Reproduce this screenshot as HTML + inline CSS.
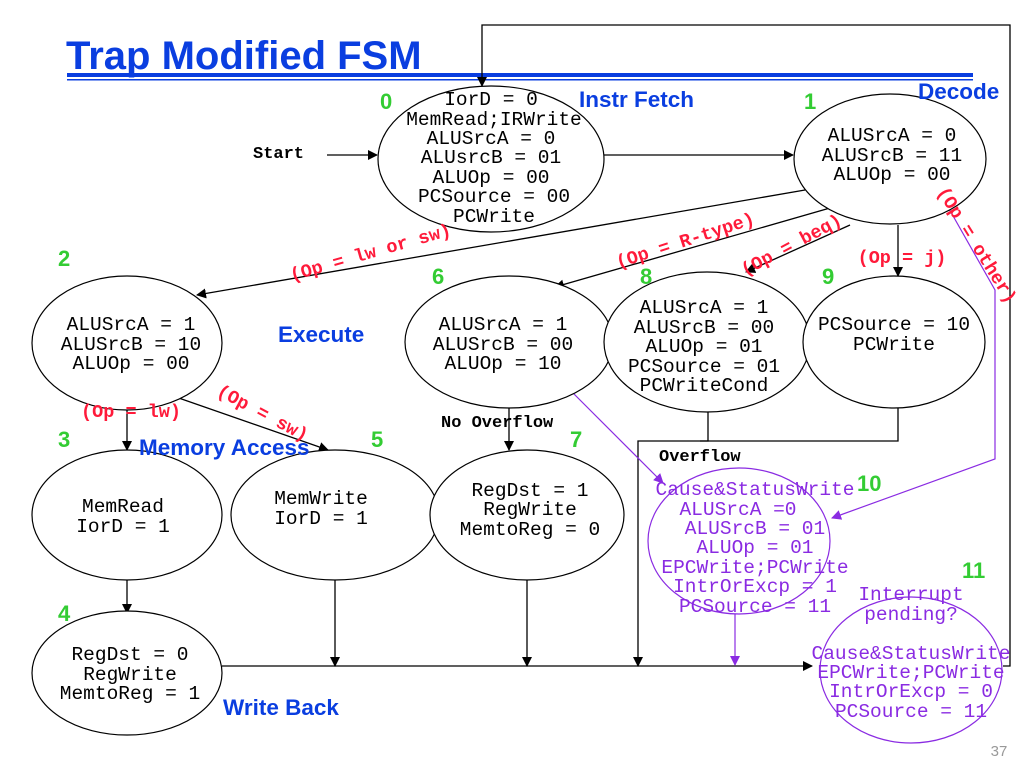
<!DOCTYPE html>
<html><head><meta charset="utf-8"><style>
html,body{margin:0;padding:0;background:#fff;}
svg{display:block;}
.m{font-family:"Liberation Mono",monospace;font-size:19.5px;fill:#000;text-anchor:middle;}
.p{font-family:"Liberation Mono",monospace;font-size:19.5px;fill:#8a2be2;text-anchor:middle;}
.r{font-family:"Liberation Mono",monospace;font-size:18.5px;font-weight:bold;fill:#ff1a3a;text-anchor:middle;}
.b{font-family:"Liberation Mono",monospace;font-size:17px;font-weight:bold;fill:#000;}
.g{font-family:"Liberation Sans",sans-serif;font-size:22px;font-weight:bold;fill:#33cc33;}
.h{font-family:"Liberation Sans",sans-serif;font-size:22.5px;font-weight:bold;fill:#0a3ee0;}
</style></head><body>
<svg width="1034" height="779" viewBox="0 0 1034 779" xmlns="http://www.w3.org/2000/svg">
<defs>
<marker id="a" markerWidth="10" markerHeight="10" refX="9" refY="5" orient="auto" markerUnits="userSpaceOnUse"><path d="M0,0 L10,5 L0,10 z" fill="#000"/></marker>
<marker id="pa" markerWidth="10" markerHeight="10" refX="9" refY="5" orient="auto" markerUnits="userSpaceOnUse"><path d="M0,0 L10,5 L0,10 z" fill="#8a2be2"/></marker>
</defs>
<text x="66" y="69" font-family="Liberation Sans, sans-serif" font-size="40" font-weight="bold" fill="#0a3ee0">Trap Modified FSM</text>
<rect x="67" y="73" width="906" height="4" fill="#0a3ee0"/>
<rect x="67" y="79" width="906" height="1.5" fill="#0a3ee0"/>

<g fill="none" stroke="#000" stroke-width="1.3">
<polyline points="1003,666 1010,666 1010,25 482,25 482,86" marker-end="url(#a)"/>
<line x1="327" y1="155" x2="377" y2="155" marker-end="url(#a)"/>
<line x1="604" y1="155" x2="793" y2="155" marker-end="url(#a)"/>
<line x1="805" y1="190" x2="197" y2="295" marker-end="url(#a)"/>
<line x1="830" y1="208" x2="555" y2="287" marker-end="url(#a)"/>
<line x1="850" y1="225" x2="746" y2="272" marker-end="url(#a)"/>
<line x1="898" y1="225" x2="898" y2="276" marker-end="url(#a)"/>
<line x1="127" y1="410" x2="127" y2="450" marker-end="url(#a)"/>
<line x1="150" y1="388" x2="328" y2="450" marker-end="url(#a)"/>
<line x1="509" y1="408" x2="509" y2="450" marker-end="url(#a)"/>
<line x1="127" y1="580" x2="127" y2="613" marker-end="url(#a)"/>
<line x1="335" y1="580" x2="335" y2="666" marker-end="url(#a)"/>
<line x1="527" y1="580" x2="527" y2="666" marker-end="url(#a)"/>
<polyline points="708,412 708,441 638,441 638,666" marker-end="url(#a)"/>
<polyline points="898,408 898,441 700,441"/>
<line x1="222" y1="666" x2="812" y2="666" marker-end="url(#a)"/>
</g>
<g fill="none" stroke="#8a2be2" stroke-width="1.2">
<line x1="570" y1="390" x2="663" y2="483" marker-end="url(#pa)"/>
<polyline points="948,207 995,290 995,459 832,518" marker-end="url(#pa)"/>
<line x1="735" y1="614" x2="735" y2="665" marker-end="url(#pa)"/>
</g>

<g fill="#fff" stroke="#000" stroke-width="1.2">
<ellipse cx="491" cy="159" rx="113" ry="73"/>
<ellipse cx="890" cy="159" rx="96" ry="65"/>
<ellipse cx="127" cy="343" rx="95" ry="67"/>
<ellipse cx="509" cy="342" rx="104" ry="66"/>
<ellipse cx="707" cy="342" rx="103" ry="70"/>
<ellipse cx="894" cy="342" rx="91" ry="66"/>
<ellipse cx="127" cy="515" rx="95" ry="65"/>
<ellipse cx="335" cy="515" rx="104" ry="65"/>
<ellipse cx="527" cy="515" rx="97" ry="65"/>
<ellipse cx="127" cy="673" rx="95" ry="62"/>
</g>
<g fill="none" stroke="#8a2be2" stroke-width="1.2">
<ellipse cx="739" cy="541" rx="91" ry="73"/>
<ellipse cx="911" cy="670" rx="91" ry="73"/>
</g>

<text class="m" x="491" y="105">IorD = 0</text>
<text class="m" x="494" y="125">MemRead;IRWrite</text>
<text class="m" x="491" y="144">ALUSrcA = 0</text>
<text class="m" x="491" y="163">ALUsrcB = 01</text>
<text class="m" x="491" y="183">ALUOp = 00</text>
<text class="m" x="494" y="202">PCSource = 00</text>
<text class="m" x="494" y="222">PCWrite</text>

<text class="m" x="892" y="141">ALUSrcA = 0</text>
<text class="m" x="892" y="161">ALUSrcB = 11</text>
<text class="m" x="892" y="180">ALUOp = 00</text>

<text class="m" x="131" y="330">ALUSrcA = 1</text>
<text class="m" x="131" y="350">ALUSrcB = 10</text>
<text class="m" x="131" y="369">ALUOp = 00</text>

<text class="m" x="503" y="330">ALUSrcA = 1</text>
<text class="m" x="503" y="350">ALUSrcB = 00</text>
<text class="m" x="503" y="369">ALUOp = 10</text>

<text class="m" x="704" y="313">ALUSrcA = 1</text>
<text class="m" x="704" y="333">ALUSrcB = 00</text>
<text class="m" x="704" y="352">ALUOp = 01</text>
<text class="m" x="704" y="372">PCSource = 01</text>
<text class="m" x="704" y="391">PCWriteCond</text>

<text class="m" x="894" y="330">PCSource = 10</text>
<text class="m" x="894" y="350">PCWrite</text>

<text class="m" x="123" y="512">MemRead</text>
<text class="m" x="123" y="532">IorD = 1</text>
<text class="m" x="321" y="504">MemWrite</text>
<text class="m" x="321" y="524">IorD = 1</text>
<text class="m" x="530" y="496">RegDst = 1</text>
<text class="m" x="530" y="515">RegWrite</text>
<text class="m" x="530" y="535">MemtoReg = 0</text>
<text class="m" x="130" y="660">RegDst = 0</text>
<text class="m" x="130" y="680">RegWrite</text>
<text class="m" x="130" y="699">MemtoReg = 1</text>

<text class="p" x="755" y="495">Cause&amp;StatusWrite</text>
<text class="p" x="738" y="515">ALUSrcA =0</text>
<text class="p" x="755" y="534">ALUSrcB = 01</text>
<text class="p" x="755" y="553">ALUOp = 01</text>
<text class="p" x="755" y="573">EPCWrite;PCWrite</text>
<text class="p" x="755" y="592">IntrOrExcp = 1</text>
<text class="p" x="755" y="612">PCSource = 11</text>
<text class="p" x="911" y="600">Interrupt</text>
<text class="p" x="911" y="620">pending?</text>
<text class="p" x="911" y="659">Cause&amp;StatusWrite</text>
<text class="p" x="911" y="678">EPCWrite;PCWrite</text>
<text class="p" x="911" y="697">IntrOrExcp = 0</text>
<text class="p" x="911" y="717">PCSource = 11</text>

<text class="b" x="253" y="158">Start</text>
<text class="b" x="441" y="427">No Overflow</text>
<text class="b" x="659" y="461">Overflow</text>

<text class="g" x="380" y="109">0</text>
<text class="g" x="804" y="109">1</text>
<text class="g" x="58" y="266">2</text>
<text class="g" x="432" y="284">6</text>
<text class="g" x="640" y="284">8</text>
<text class="g" x="822" y="284">9</text>
<text class="g" x="58" y="447">3</text>
<text class="g" x="371" y="447">5</text>
<text class="g" x="570" y="447">7</text>
<text class="g" x="58" y="621">4</text>
<text class="g" x="857" y="491">10</text>
<text class="g" x="962" y="578">11</text>

<text class="h" x="579" y="107">Instr Fetch</text>
<text class="h" x="918" y="99">Decode</text>
<text class="h" x="278" y="342">Execute</text>
<text class="h" x="139" y="455">Memory Access</text>
<text class="h" x="223" y="715">Write Back</text>

<text class="r" transform="translate(372,258) rotate(-16)">(Op = lw or sw)</text>
<text class="r" transform="translate(687,246) rotate(-18)">(Op = R-type)</text>
<text class="r" transform="translate(794,250) rotate(-28)">(Op = beq)</text>
<text class="r" transform="translate(902,263)">(Op = j)</text>
<text class="r" transform="translate(972,248) rotate(58)">(Op = other)</text>
<text class="r" transform="translate(131,417)">(Op = lw)</text>
<text class="r" transform="translate(260,418) rotate(28)">(Op = sw)</text>

<text x="999" y="756" font-family="Liberation Sans, sans-serif" font-size="15" fill="#999" text-anchor="middle">37</text>
</svg>
</body></html>
